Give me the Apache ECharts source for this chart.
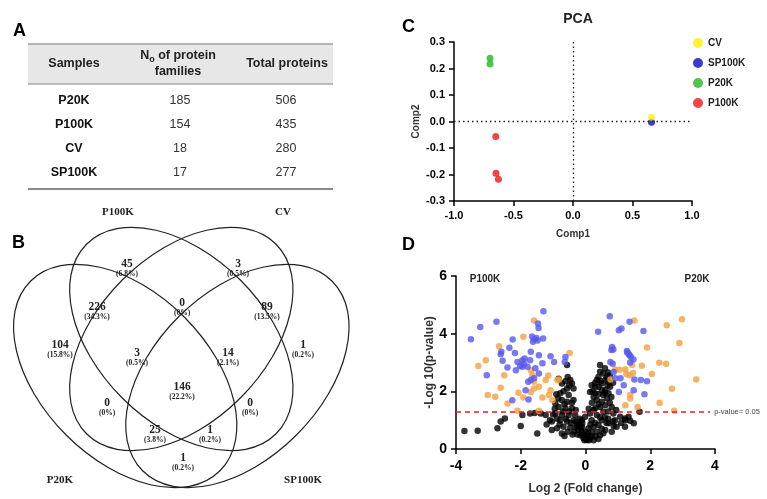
<!DOCTYPE html>
<head>
    <meta charset="UTF-8">
    <title>ECharts</title>
</head>
<body style="margin:0">
<div id="main" style="width:767px;height:499px"></div>
<script src="https://cdn.jsdelivr.net/npm/echarts@6/dist/echarts.min.js"></script>
<script type="text/javascript">
    // table A
    var samples = ['P20K', 'P100K', 'CV', 'SP100K'];
    var families = [185, 154, 18, 17];
    var totals = [506, 435, 280, 277];

    // venn B
    var vennSets = ['P100K', 'CV', 'P20K', 'SP100K'];
    var vennCounts = [45, 3, 226, 0, 89, 104, 3, 14, 1, 146, 0, 0, 25, 1, 1];
    var vennPcts = ['6.8%', '0.5%', '34.3%', '0%', '13.5%', '15.8%', '0.5%', '2.1%', '0.2%', '22.2%', '0%', '0%', '3.8%', '0.2%', '0.2%'];
    var vennPos = [[127, 264], [238, 264], [97, 307], [182, 303], [267, 307], [60, 345], [137, 353], [228, 353],
        [303, 345], [182, 387], [107, 403], [250, 403], [155, 430], [210, 430], [183, 458]];

    // PCA C
    var pcaCV = [[0.66, 0.016]];
    var pcaSP100K = [[0.66, -0.003]];
    var pcaP20K = [[-0.697, 0.239], [-0.697, 0.217]];
    var pcaP100K = [[-0.649, -0.057], [-0.647, -0.195], [-0.627, -0.218]];

    // volcano D
    var volBlue = [[-3.54,3.81],[-3.25,4.23],[-2.75,4.41],[-1.30,4.78],[-1.47,4.35],[-1.45,4.2],[-2.25,3.80],[-2.60,3.37],
        [-2.62,3.29],[-2.56,3.06],[-2.35,3.51],[-2.18,3.33],[-3.05,2.56],[-2.41,2.83],[-2.10,3.02],[-1.95,3.08],[-2.02,2.88],
        [-2.15,2.73],[-1.88,3.14],[-1.79,2.85],[-1.69,3.37],[-1.71,3.08],[-1.65,3.90],[-1.58,3.80],[-1.52,3.85],[-1.48,3.76],
        [-1.62,3.72],[-1.31,3.83],[-1.44,3.25],[-1.33,2.97],[-1.44,2.62],[-1.59,2.45],[-1.69,2.39],[-1.77,2.33],[-1.08,3.22],
        [-0.97,3.02],[-1.85,2.04],[-2.26,1.69],[-1.76,1.72],[-1.95,2.85],[-0.62,3.19],[-0.64,3.02],[-1.55,2.8],[-1.9,2.95],
        [0.75,4.60],[0.39,4.07],[1.03,4.12],[1.11,4.18],[0.82,3.54],[0.80,3.43],[0.77,3.02],[0.84,2.96],[0.87,2.67],[1.08,2.45],
        [1.03,1.98],[0.92,2.45],[1.36,4.41],[1.79,4.09],[1.29,3.35],[1.33,3.3],[1.36,3.25],[1.4,3.2],[1.48,3.1],[1.28,3.4],
        [1.51,2.41],[1.71,2.39],[1.90,2.35],[1.49,2.04],[1.82,1.90],[1.18,2.21],[1.38,3.0],[0.86,3.45]];
    var volOrange = [[-1.59,4.46],[-1.92,3.89],[-2.67,3.56],[-3.08,3.08],[-3.31,2.88],[-2.51,2.56],[-2.62,2.12],[-3.02,1.87],
        [-2.79,1.81],[-2.41,1.58],[-2.07,1.95],[-1.92,1.79],[-1.69,2.73],[-1.64,2.56],[-1.59,2.33],[-1.59,2.10],[-1.44,2.16],
        [-1.23,2.39],[-1.33,1.79],[-1.08,2.04],[-1.13,1.87],[-1.02,1.69],[-0.87,2.39],[-2.10,1.33],[-1.44,1.33],[-1.69,1.98],
        [-0.49,3.33],[-0.82,2.41],[-1.15,2.55],
        [0.92,2.76],[0.77,2.41],[1.23,1.52],[1.51,4.46],[2.51,4.29],[2.98,4.50],[2.90,3.68],[1.90,3.52],[2.28,2.99],[2.49,2.96],
        [1.74,2.89],[1.44,2.91],[1.23,2.76],[1.26,2.60],[1.36,2.56],[1.47,2.64],[2.05,2.60],[3.42,2.41],[2.67,2.09],[1.38,1.87],
        [1.38,1.75],[2.29,1.60],[1.61,1.46],[2.74,1.33],[1.05,2.75]];
    var volBlack = [[-3.74,0.62],[-3.33,0.63],[-2.72,0.72],[-2.62,0.95],[-2.49,1.06],[-2.0,0.8],[-1.95,1.18],[-1.71,1.23],
        [-1.49,0.54],[-1.23,1.18],[-1.2,0.85],[-1.38,1.23],[-1.57,1.25],[-1.1,1.0],
        [-1.04,0.95],[-0.88,0.72],[-1.04,0.66],[-0.93,1.58],[-0.83,1.46],[-0.93,1.23],[-0.83,2.44],[-0.73,2.27],[-0.57,2.91],
        [-0.47,2.39],[-0.42,2.27],[-0.57,2.10],[-0.37,2.10],[-0.78,1.93],[-0.52,1.87],[-0.73,1.70],[-0.57,1.64],[-0.37,1.70],
        [-0.62,1.41],[-0.42,1.41],[-0.73,1.18],[-0.52,1.18],[-0.32,1.18],[-0.78,1.00],[-0.57,0.95],[-0.37,1.00],[-0.68,0.77],
        [-0.47,0.75],[-0.26,0.83],[-0.73,0.54],[-0.22,0.66],[-0.16,0.48],[-0.06,0.37],
        [-0.9,1.9],[-0.85,1.75],[-0.65,1.55],[-0.5,1.3],[-0.6,1.05],[-0.45,0.9],[-0.35,0.6],[-0.3,1.35],[-0.28,0.95],[-0.2,0.85],
        [-0.62,2.35],[-0.55,2.5],[-0.88,1.05],[-0.95,1.4],[-0.7,1.3],[-0.4,0.5],[-0.55,0.6],[-0.65,0.45],[-0.25,0.5],[-0.12,0.6],
        [-0.15,0.75],[-0.08,0.5],[-0.5,2.2],[-0.68,2.0],[-1.0,1.2],[-0.8,0.85],[-0.18,1.05],[-0.1,0.9],[-0.42,1.6],[-0.3,0.75],
        [0.04,0.31],[0.14,0.37],[-0.01,0.6],[0.09,0.71],[-0.11,0.77],[-0.11,1.0],[-0.01,1.12],[0.0,0.4],[0.05,0.45],[0.1,0.3],
        [-0.03,0.3],[0.2,0.45],[0.08,0.55],[0.18,0.6],
        [0.14,1.23],[0.19,1.00],[0.25,0.77],[0.35,0.60],[0.30,0.43],[0.45,0.48],[0.40,0.83],[0.50,1.00],[0.35,1.18],[0.30,1.41],
        [0.45,1.46],[0.55,1.29],[0.61,1.52],[0.50,1.64],[0.66,1.75],[0.55,1.87],[0.71,1.93],[0.61,2.04],[0.76,2.16],[0.71,2.33],
        [0.66,2.50],[0.55,2.62],[0.45,2.68],[0.45,2.91],[0.35,2.39],[0.19,2.21],[0.30,2.16],[0.14,1.98],[0.30,1.93],[0.40,2.16],
        [0.50,2.27],[0.81,1.46],[0.86,1.23],[0.91,1.00],[1.07,1.12],[1.22,1.06],[1.22,0.77],[0.71,0.89],[0.61,0.66],[0.81,0.60],
        [0.96,0.77],[0.6,2.8],[0.7,2.65],[0.75,2.55],[0.62,2.4],[0.4,2.5],[0.48,2.35],[0.3,2.3],[0.22,2.0],[0.25,1.8],[0.35,1.7],
        [0.4,1.55],[0.2,1.6],[0.25,1.35],[0.45,1.1],[0.6,1.1],[0.7,1.3],[0.75,1.6],[0.8,1.8],[0.65,0.9],[0.5,0.7],[0.3,0.9],
        [0.4,0.35],[0.25,0.3],[0.55,0.55],[0.85,0.95],[0.95,1.35],[0.7,1.05],[0.15,0.85],[0.1,1.4],[0.6,1.95],[0.5,2.05],
        [0.85,2.3],[0.4,1.9],[0.68,2.2],
        [1.49,0.89],[1.33,1.12],[1.67,1.29],[0.87,0.80],[1.23,1.0],[1.1,0.9],[1.38,0.98]];
    var pThreshold = 1.3;

    var sans = 'Liberation Sans, Arial, sans-serif';
    var serif = 'Liberation Serif, Times New Roman, serif';

    function txt(x, y, text, font, size, weight, color, align) {
        return {
            type: 'text', x: x, y: y,
            style: {
                text: text, fontFamily: font, fontSize: size, fontWeight: weight,
                fill: color || '#000', align: align || 'center', verticalAlign: 'middle'
            }
        };
    }

    var graphics = [];
    // panel letters
    graphics.push(txt(13, 31, 'A', sans, 18, 'bold', '#000', 'left'));
    graphics.push(txt(12, 243, 'B', sans, 18, 'bold', '#000', 'left'));
    graphics.push(txt(402, 27, 'C', sans, 18, 'bold', '#000', 'left'));
    graphics.push(txt(402, 245, 'D', sans, 18, 'bold', '#000', 'left'));

    // table
    graphics.push({ type: 'rect', shape: { x: 28, y: 44, width: 305, height: 40 }, style: { fill: '#e7e7e7' } });
    graphics.push({ type: 'line', shape: { x1: 28, y1: 44, x2: 333, y2: 44 }, style: { stroke: '#a0a0a0', lineWidth: 1.5 } });
    graphics.push({ type: 'line', shape: { x1: 28, y1: 84, x2: 333, y2: 84 }, style: { stroke: '#a8a8a8', lineWidth: 1.5 } });
    graphics.push({ type: 'line', shape: { x1: 28, y1: 189, x2: 333, y2: 189 }, style: { stroke: '#8a8a8a', lineWidth: 2 } });
    graphics.push(txt(74, 64, 'Samples', sans, 12.5, 'bold', '#222'));
    graphics.push({
        type: 'text', x: 178, y: 64,
        style: {
            text: 'N{s|o} of protein\nfamilies', fontFamily: sans, fontSize: 12.5, fontWeight: 'bold', fill: '#222',
            align: 'center', verticalAlign: 'middle', lineHeight: 16,
            rich: { s: { fontSize: 9, fontWeight: 'bold', fontFamily: sans, fill: '#222', verticalAlign: 'bottom' } }
        }
    });
    graphics.push(txt(287, 64, 'Total proteins', sans, 12.5, 'bold', '#222'));
    for (var i = 0; i < samples.length; i++) {
        var ry = 101 + i * 23.7;
        graphics.push(txt(74, ry, samples[i], sans, 12.5, 'bold', '#111'));
        graphics.push(txt(180, ry, String(families[i]), sans, 12.5, 'normal', '#333'));
        graphics.push(txt(286, ry, String(totals[i]), sans, 12.5, 'normal', '#333'));
    }

    // venn ellipses
    var ells = [[181.3, 339, -Math.PI / 4], [181.3, 339, Math.PI / 4], [125.2, 376, -Math.PI / 4], [237.4, 376, Math.PI / 4]];
    for (var e = 0; e < ells.length; e++) {
        graphics.push({
            type: 'ellipse', x: ells[e][0], y: ells[e][1], rotation: ells[e][2],
            shape: { cx: 0, cy: 0, rx: 134, ry: 83.5 },
            style: { fill: 'none', stroke: '#222', lineWidth: 1.2 }
        });
    }
    var setPos = [[118, 212], [283, 212], [60, 480], [303, 480]];
    for (var s = 0; s < vennSets.length; s++) {
        graphics.push(txt(setPos[s][0], setPos[s][1], vennSets[s], serif, 11, 'bold', '#222'));
    }
    for (var v = 0; v < vennCounts.length; v++) {
        graphics.push(txt(vennPos[v][0], vennPos[v][1], String(vennCounts[v]), serif, 11.5, 'bold', '#222'));
        graphics.push(txt(vennPos[v][0], vennPos[v][1] + 10, '(' + vennPcts[v] + ')', serif, 7.5, 'bold', '#222'));
    }

    // D annotations
    graphics.push(txt(485, 279, 'P100K', sans, 10, 'bold', '#222'));
    graphics.push(txt(697, 279, 'P20K', sans, 10, 'bold', '#222'));

    var axisBase = function (gi, name, gap, min, max, interval, digits, fs, lfs, margin) {
        return {
            gridIndex: gi, type: 'value', min: min, max: max, interval: interval,
            name: name, nameLocation: 'middle', nameGap: gap,
            nameTextStyle: { fontFamily: sans, fontWeight: 'bold', fontSize: fs, color: '#333' },
            axisLine: { show: true, onZero: false, lineStyle: { color: '#000', width: 1.5 } },
            axisTick: { show: true, length: 5, lineStyle: { color: '#000', width: 1.5 } },
            axisLabel: {
                fontFamily: sans, fontWeight: 'bold', fontSize: lfs, color: '#000', margin: margin,
                formatter: function (val) { return val.toFixed(digits); }
            },
            splitLine: { show: false }
        };
    };

    var option = {
        animation: false,
        backgroundColor: '#fff',
        title: {
            text: 'PCA', left: 573, top: 7, textAlign: 'center',
            textStyle: { fontFamily: sans, fontSize: 14, fontWeight: 'bold', color: '#222' }
        },
        legend: {
            data: ['CV', 'SP100K', 'P20K', 'P100K'],
            orient: 'vertical', left: 688, top: 33, itemWidth: 10, itemHeight: 10, itemGap: 10, icon: 'circle',
            textStyle: { fontFamily: sans, fontWeight: 'bold', fontSize: 10, color: '#222' }
        },
        grid: [
            { left: 454, top: 42, width: 238, height: 159 },
            { left: 456, top: 276, width: 259, height: 173 }
        ],
        xAxis: [
            axisBase(0, 'Comp1', 28, -1, 1, 0.5, 1, 10, 11, 9),
            axisBase(1, 'Log 2 (Fold change)', 34, -4, 4, 2, 0, 12, 14, 10)
        ],
        yAxis: [
            axisBase(0, 'Comp2', 33, -0.3, 0.3, 0.1, 1, 10, 11, 9),
            axisBase(1, '-Log 10(p-value)', 18, 0, 6, 2, 0, 12, 14, 9)
        ],
        graphic: graphics,
        series: [
            {
                name: 'CV', type: 'scatter', xAxisIndex: 0, yAxisIndex: 0, data: pcaCV, symbolSize: 7,
                itemStyle: { color: '#ffee00' }, z: 3
            },
            {
                name: 'SP100K', type: 'scatter', xAxisIndex: 0, yAxisIndex: 0, data: pcaSP100K, symbolSize: 7,
                itemStyle: { color: '#0a0ac8' }, z: 2,
                markLine: {
                    silent: true, symbol: 'none', label: { show: false },
                    lineStyle: { color: '#222', type: [1.5, 3], width: 1.3 },
                    data: [{ xAxis: 0 }, { yAxis: 0 }]
                }
            },
            {
                name: 'P20K', type: 'scatter', xAxisIndex: 0, yAxisIndex: 0, data: pcaP20K, symbolSize: 7,
                itemStyle: { color: '#22b822' }
            },
            {
                name: 'P100K', type: 'scatter', xAxisIndex: 0, yAxisIndex: 0, data: pcaP100K, symbolSize: 7,
                itemStyle: { color: '#ee1515' }
            },
            {
                name: 'ns', type: 'scatter', xAxisIndex: 1, yAxisIndex: 1, data: volBlack, symbolSize: 6.5,
                itemStyle: { color: '#000' }, z: 2
            },
            {
                name: 'fc', type: 'scatter', xAxisIndex: 1, yAxisIndex: 1, data: volOrange, symbolSize: 6.5,
                itemStyle: { color: '#f4a040' }, z: 3
            },
            {
                name: 'sig', type: 'scatter', xAxisIndex: 1, yAxisIndex: 1, data: volBlue, symbolSize: 6.5,
                itemStyle: { color: '#5858ee' }, z: 4,
                markLine: {
                    silent: true, symbol: 'none',
                    lineStyle: { color: '#e02020', type: [5, 4], width: 1.5 },
                    label: {
                        show: true, position: 'end', formatter: 'p-value= 0.05', distance: 4,
                        fontFamily: sans, fontSize: 7.5, color: '#444'
                    },
                    data: [[{ coord: [-4, pThreshold] }, { coord: [3.85, pThreshold] }]]
                }
            }
        ]
    };

    var myChart = echarts.init(document.getElementById('main'));
    myChart.setOption(option);
</script>
</body>
